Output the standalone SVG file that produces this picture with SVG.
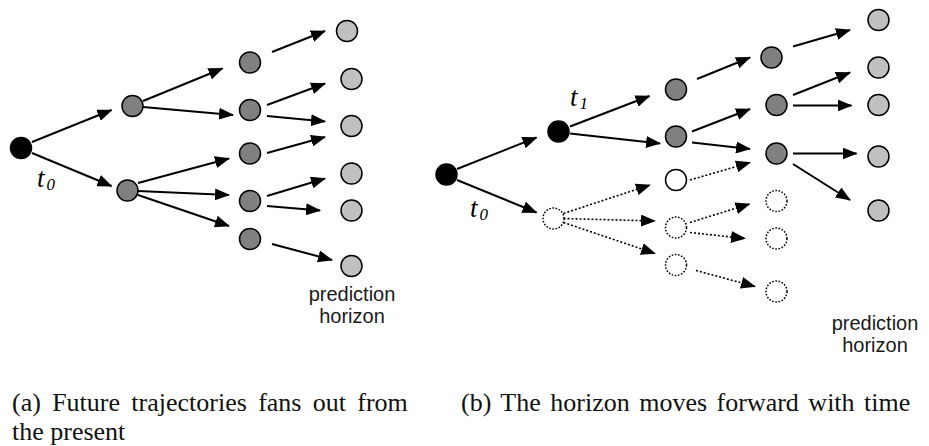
<svg xmlns="http://www.w3.org/2000/svg" width="929" height="446" viewBox="0 0 929 446">
  <defs>
    <marker id="head" markerUnits="userSpaceOnUse" markerWidth="15" markerHeight="12" refX="14" refY="6" orient="auto">
      <path d="M0,0 L15,6 L0,12 z" fill="#000"/>
    </marker>
    <style>
      .n circle { stroke: #000; stroke-width: 1.5; }
      .now { fill: #000; }
      .mid { fill: #808080; }
      .far { fill: #c0c0c0; }
      .open { fill: #fff; }
      .gone { fill: #fff; stroke-dasharray: 1.6 1.6; stroke-width: 1.4; }
      .e { stroke: #000; stroke-width: 2; fill: none; marker-end: url(#head); }
      .e.dot { stroke-width: 1.6; stroke-dasharray: 2 2; }
      .t { font-family: "Liberation Serif", "Times New Roman", serif; font-style: italic; fill: #000; }
      .lbl { font-family: "Liberation Sans", Arial, sans-serif; font-size: 20px; fill: #1a1a1a; text-anchor: middle; }
      .cap { font-family: "Liberation Serif", "Times New Roman", serif; font-size: 26px; fill: #111; }
    </style>
  </defs>

  <!-- panel (a): connectors -->
  <g id="edges-a">
    <line class="e" x1="32" y1="142" x2="111.5" y2="110"/>
    <line class="e" x1="32" y1="153" x2="111.5" y2="186"/>
    <line class="e" x1="143" y1="101" x2="222.5" y2="68.5"/>
    <line class="e" x1="143" y1="107" x2="233" y2="115"/>
    <line class="e" x1="138" y1="183" x2="229" y2="158.5"/>
    <line class="e" x1="138" y1="191" x2="229" y2="195"/>
    <line class="e" x1="138" y1="195" x2="229" y2="226"/>
    <line class="e" x1="272" y1="52" x2="325" y2="31"/>
    <line class="e" x1="267" y1="105" x2="325" y2="83.5"/>
    <line class="e" x1="267" y1="116" x2="325" y2="121.5"/>
    <line class="e" x1="267" y1="153" x2="325" y2="137"/>
    <line class="e" x1="267" y1="196" x2="325" y2="178.5"/>
    <line class="e" x1="267" y1="206" x2="320" y2="210.5"/>
    <line class="e" x1="272" y1="244" x2="332" y2="260"/>
  </g>

  <!-- panel (a): nodes -->
  <g id="a0" class="n"><circle class="now" cx="21" cy="148" r="10.5"/></g>
  <g id="a1" class="n"><circle class="mid" cx="132.5" cy="106" r="10.5"/></g>
  <g id="a2" class="n"><circle class="mid" cx="127.5" cy="190.5" r="10.5"/></g>
  <g id="a3" class="n"><circle class="mid" cx="250" cy="62.5" r="10.5"/></g>
  <g id="a4" class="n"><circle class="mid" cx="250" cy="110" r="10.5"/></g>
  <g id="a5" class="n"><circle class="mid" cx="250" cy="153.5" r="10.5"/></g>
  <g id="a6" class="n"><circle class="mid" cx="250" cy="201" r="10.5"/></g>
  <g id="a7" class="n"><circle class="mid" cx="250" cy="239" r="10.5"/></g>
  <g id="a8" class="n"><circle class="far" cx="347" cy="31" r="10.5"/></g>
  <g id="a9" class="n"><circle class="far" cx="351.5" cy="79" r="10.5"/></g>
  <g id="a10" class="n"><circle class="far" cx="351.5" cy="126" r="10.5"/></g>
  <g id="a11" class="n"><circle class="far" cx="351.5" cy="173.5" r="10.5"/></g>
  <g id="a12" class="n"><circle class="far" cx="351.5" cy="210.5" r="10.5"/></g>
  <g id="a13" class="n"><circle class="far" cx="351.5" cy="266" r="10.5"/></g>

  <g id="labels-a">
    <text class="t" x="37" y="186.5" font-size="27">t</text>
    <text class="t" x="46.5" y="190" font-size="17">0</text>
    <text class="lbl" x="352" y="301">prediction</text>
    <text class="lbl" x="352" y="323">horizon</text>
  </g>

  <!-- panel (b): connectors -->
  <g id="edges-b">
    <line class="e" x1="457" y1="169" x2="536.5" y2="137.5"/>
    <line class="e" x1="457" y1="180" x2="536.5" y2="212.5"/>
    <line class="e" x1="570" y1="126.5" x2="649.5" y2="96"/>
    <line class="e" x1="570" y1="133.5" x2="660" y2="143.5"/>
    <line class="e dot" x1="563.5" y1="213.5" x2="650" y2="185"/>
    <line class="e dot" x1="563.5" y1="218.5" x2="655" y2="221"/>
    <line class="e dot" x1="563.5" y1="222.5" x2="655" y2="253.5"/>
    <line class="e" x1="697" y1="79" x2="750" y2="57.5"/>
    <line class="e" x1="692" y1="131.5" x2="750" y2="109"/>
    <line class="e" x1="692" y1="142.5" x2="750" y2="149"/>
    <line class="e dot" x1="690" y1="180" x2="750" y2="162.5"/>
    <line class="e dot" x1="690" y1="222.5" x2="749.5" y2="204"/>
    <line class="e dot" x1="690" y1="232.5" x2="745" y2="238.5"/>
    <line class="e dot" x1="696" y1="270.5" x2="755" y2="286.5"/>
    <line class="e" x1="793" y1="46.5" x2="850" y2="30"/>
    <line class="e" x1="793" y1="95" x2="850" y2="72.5"/>
    <line class="e" x1="793" y1="105.5" x2="851.5" y2="105.5"/>
    <line class="e" x1="793" y1="153.5" x2="856.5" y2="153.5"/>
    <line class="e" x1="793" y1="164" x2="850" y2="200"/>
  </g>

  <!-- panel (b): nodes -->
  <g id="b0" class="n"><circle class="now" cx="446.5" cy="174.5" r="10.5"/></g>
  <g id="b1" class="n"><circle class="now" cx="558.5" cy="131.5" r="10.5"/></g>
  <g id="b2" class="n"><circle class="gone" cx="553.5" cy="218.5" r="10.5"/></g>
  <g id="b3" class="n"><circle class="mid" cx="676" cy="89.5" r="10.5"/></g>
  <g id="b4" class="n"><circle class="mid" cx="676" cy="136.5" r="10.5"/></g>
  <g id="b5" class="n"><circle class="open" cx="676" cy="180" r="10.5"/></g>
  <g id="b6" class="n"><circle class="gone" cx="676" cy="227.5" r="10.5"/></g>
  <g id="b7" class="n"><circle class="gone" cx="676" cy="265" r="10.5"/></g>
  <g id="b8" class="n"><circle class="mid" cx="771.5" cy="57.5" r="10.5"/></g>
  <g id="b9" class="n"><circle class="mid" cx="776.5" cy="105" r="10.5"/></g>
  <g id="b10" class="n"><circle class="mid" cx="776.5" cy="153.5" r="10.5"/></g>
  <g id="b11" class="n"><circle class="gone" cx="776.5" cy="201" r="10.5"/></g>
  <g id="b12" class="n"><circle class="gone" cx="776.5" cy="238.5" r="10.5"/></g>
  <g id="b13" class="n"><circle class="gone" cx="776.5" cy="291.5" r="10.5"/></g>
  <g id="b14" class="n"><circle class="far" cx="878.5" cy="20" r="10.5"/></g>
  <g id="b15" class="n"><circle class="far" cx="878.5" cy="67.5" r="10.5"/></g>
  <g id="b16" class="n"><circle class="far" cx="878.5" cy="105" r="10.5"/></g>
  <g id="b17" class="n"><circle class="far" cx="878.5" cy="156.5" r="10.5"/></g>
  <g id="b18" class="n"><circle class="far" cx="878.5" cy="210.5" r="10.5"/></g>

  <g id="labels-b">
    <text class="t" x="470" y="216.5" font-size="27">t</text>
    <text class="t" x="479.5" y="220" font-size="17">0</text>
    <text class="t" x="570" y="106" font-size="27">t</text>
    <text class="t" x="579.5" y="109" font-size="17">1</text>
    <text class="lbl" x="875" y="330">prediction</text>
    <text class="lbl" x="875" y="352">horizon</text>
  </g>

  <!-- sub-figure captions -->
  <g id="captions">
    <text class="cap" x="12" y="411" word-spacing="4.8">(a) Future trajectories fans out from</text>
    <text class="cap" x="12" y="440">the present</text>
    <text class="cap" x="461" y="411" word-spacing="3">(b) The horizon moves forward with time</text>
  </g>
</svg>
